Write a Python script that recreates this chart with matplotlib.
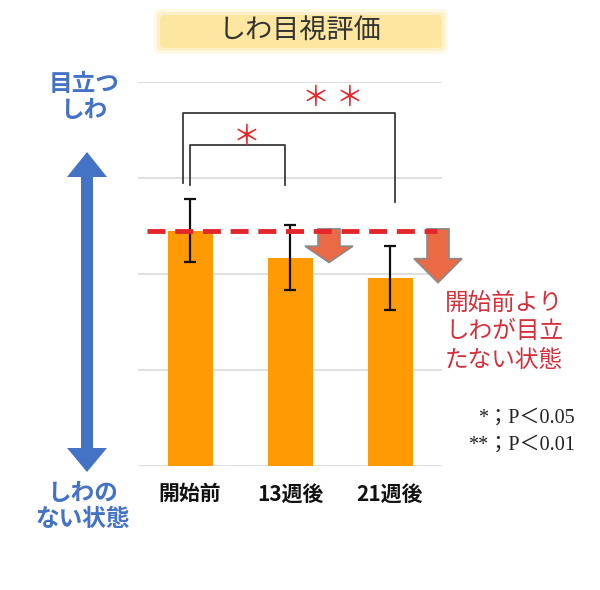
import matplotlib
matplotlib.use('Agg')
import matplotlib.pyplot as plt
from matplotlib.patches import Polygon, FancyBboxPatch
import numpy as np

# ---- data ----
categories = ['開始前', '13週後', '21週後']
values = [2.45, 2.17, 1.96]
errors = [0.33, 0.34, 0.33]
title = 'しわ目視評価'
top_label = '目立つ\nしわ'
bottom_label = 'しわの\nない状態'
note_label = '開始前より\nしわが目立\nたない状態'
sig_labels = ['*；P＜0.05', '**；P＜0.01']
sig_marks = ['＊', '＊ ＊']

JP = ['Noto Sans CJK JP', 'DejaVu Sans']
SERIF = ['Liberation Serif', 'Noto Sans CJK JP', 'DejaVu Sans']
plt.rcParams['font.family'] = JP

W, H = 600, 590
fig = plt.figure(figsize=(W / 100, H / 100), dpi=100)
fig.patch.set_facecolor('white')

# overlay axes in pixel coordinates for decorations
ov = fig.add_axes([0, 0, 1, 1], zorder=0)
ov.set_xlim(0, W)
ov.set_ylim(H, 0)
ov.axis('off')

ax = fig.add_axes([138 / W, (H - 466) / H, 304 / W, 384 / H], zorder=1)
ax.patch.set_alpha(0)

x = np.arange(len(categories))
ax.bar(x, values, width=0.45, color='#ff9a05', zorder=2)
ax.errorbar(x, values, yerr=errors, fmt='none', ecolor='#111111',
            elinewidth=1.6, capsize=4.5, capthick=1.6, zorder=3)

ax.set_xlim(-0.52, 2.52)
ax.set_ylim(0, 4)
ax.set_yticks(range(5))
ax.yaxis.grid(True, color='#d9d9d9', lw=1.2)
ax.set_axisbelow(True)
for s in ax.spines.values():
    s.set_visible(False)
ax.tick_params(left=False, labelleft=False, bottom=False, pad=9)
ax.set_xticks(x)
ax.set_xticklabels(categories, fontsize=15, fontweight='bold', color='#111111')

# baseline dashed line
ax.axhline(values[0], xmin=0.03, xmax=0.985, color='#e3262b', lw=3.5,
           dashes=(3.7, 2), zorder=6)

# down arrows
arrow_off = [0.39, 0.48]
arrow_head = [0.17, 0.25]
for k, i in enumerate([1, 2]):
    xc = x[i] + arrow_off[k]
    top = values[0] + 0.02
    tip = values[i] - 0.05
    hb = tip + arrow_head[k]
    sw, hw = 0.11, 0.24
    pts = [(xc - sw, top), (xc + sw, top), (xc + sw, hb), (xc + hw, hb),
           (xc, tip), (xc - hw, hb), (xc - sw, hb)]
    ax.add_patch(Polygon(pts, closed=True, fc='#ea6a45', ec='#8a8a8a',
                         lw=1.2, zorder=5, clip_on=False))

# significance brackets
br_col = '#3a3a3a'
ax.plot([x[0] - 0.07, x[0] - 0.07, x[2] + 0.05, x[2] + 0.05],
        [2.95, 3.68, 3.68, 2.75], color=br_col, lw=1.3, zorder=3, clip_on=False)
ax.plot([x[0], x[0], x[1] - 0.05, x[1] - 0.05],
        [2.93, 3.34, 3.34, 2.93], color=br_col, lw=1.3, zorder=3, clip_on=False)
ax.text(0.57, 3.43, sig_marks[0], color='#e8262a', fontsize=20,
        ha='center', va='center', zorder=6)
ax.text(1.43, 3.83, sig_marks[1], color='#e8262a', fontsize=20,
        ha='center', va='center', zorder=6)

# title box
for pad, a in [(6, 0.25), (3, 0.45), (0, 1.0)]:
    ov.add_patch(FancyBboxPatch((160 - pad, 15 - pad), 282 + 2 * pad, 33 + 2 * pad,
                                boxstyle='round,pad=0,rounding_size=5',
                                fc='#fde6a0', ec='none', alpha=a))
ov.text(300, 30, title, fontsize=19.5, color='#333333', ha='center', va='center')

# blue double arrow
blue = '#4472c4'
bx = 87
pts = [(bx, 152), (bx - 20, 177), (bx - 6, 177), (bx - 6, 448), (bx - 20, 448),
       (bx, 472), (bx + 20, 448), (bx + 6, 448), (bx + 6, 177), (bx + 20, 177)]
ov.add_patch(Polygon(pts, closed=True, fc=blue, ec='none'))
ov.text(84, 97, top_label, fontsize=17, fontweight='bold', color=blue,
        ha='center', va='center', linespacing=1.1)
ov.text(83, 506, bottom_label, fontsize=17, fontweight='bold', color=blue,
        ha='center', va='center', linespacing=1.1)

# red note
ov.text(445, 332, note_label, fontsize=17, color='#d4303c',
        ha='left', va='center', linespacing=1.3)

# p-value legend
ov.text(575, 418, sig_labels[0], fontsize=14.5, family=SERIF, color='#222222',
        ha='right', va='center')
ov.text(575, 445, sig_labels[1], fontsize=14.5, family=SERIF, color='#222222',
        ha='right', va='center')

fig.savefig('out.png', dpi=100, facecolor='white')
